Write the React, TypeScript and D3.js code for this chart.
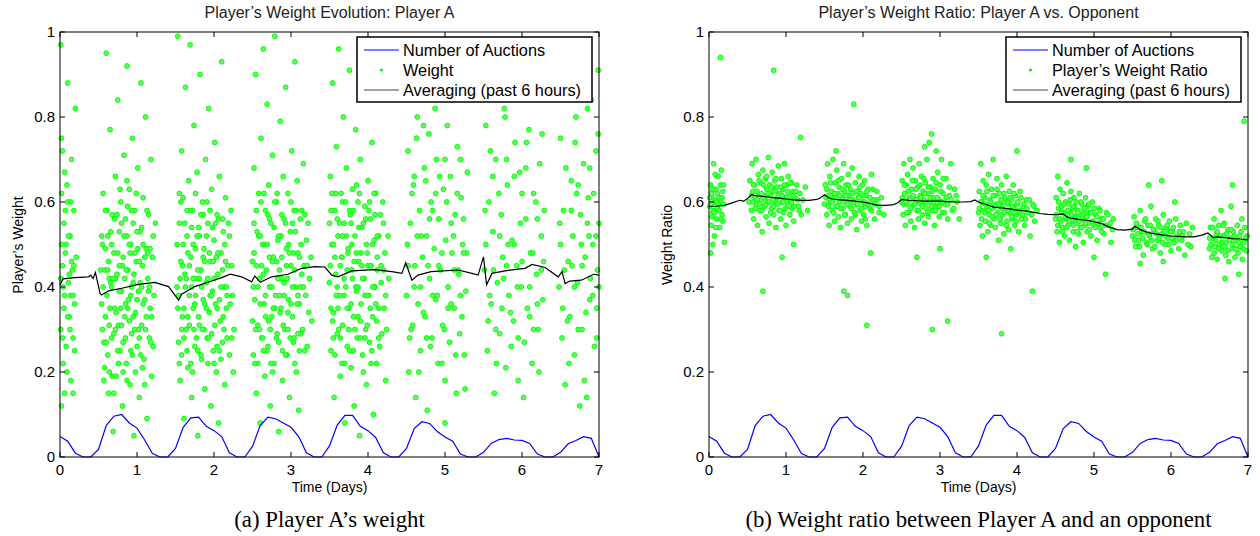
import React from 'react';
import * as d3 from 'd3';

// number of auctions (scaled to plot units), one sample every 0.1 day
const auctions = [
  0.048, 0.037, 0.009, 0, 0, 0.018, 0.074, 0.096, 0.1, 0.08,
  0.068, 0.04, 0.008, 0, 0, 0.02, 0.07, 0.092, 0.094, 0.072,
  0.062, 0.048, 0.01, 0, 0, 0.025, 0.074, 0.094, 0.09, 0.08,
  0.07, 0.048, 0.01, 0, 0, 0.026, 0.075, 0.098, 0.098, 0.072,
  0.062, 0.046, 0.01, 0, 0, 0.02, 0.067, 0.083, 0.079, 0.06,
  0.047, 0.037, 0.007, 0, 0, 0.011, 0.032, 0.041, 0.044, 0.04,
  0.039, 0.032, 0.007, 0, 0, 0.011, 0.031, 0.039, 0.048, 0.044,
  0,
];

// averaging (past 6 hours) - panel a
const avgADays = [0, 0.04, 0.19, 0.37, 0.4, 0.43, 0.46, 0.52, 0.54, 0.63, 0.8, 1.02, 1.23, 1.41, 1.54, 1.58, 1.75, 1.97, 2.1, 2.21, 2.36, 2.49, 2.53, 2.6, 2.75, 2.96, 3.14, 3.31, 3.44, 3.53, 3.61, 3.79, 4.09, 4.31, 4.44, 4.49, 4.57, 4.65, 4.82, 5.17, 5.35, 5.43, 5.5, 5.54, 5.61, 5.78, 6.04, 6.13, 6.3, 6.47, 6.52, 6.56, 6.62, 6.77, 6.93, 7];
const avgAValues = [0.405, 0.419, 0.422, 0.424, 0.428, 0.42, 0.434, 0.385, 0.381, 0.391, 0.397, 0.406, 0.411, 0.401, 0.369, 0.383, 0.401, 0.414, 0.422, 0.43, 0.424, 0.412, 0.426, 0.411, 0.424, 0.43, 0.444, 0.448, 0.447, 0.428, 0.424, 0.438, 0.441, 0.436, 0.432, 0.457, 0.416, 0.428, 0.436, 0.44, 0.432, 0.428, 0.471, 0.405, 0.432, 0.438, 0.444, 0.453, 0.446, 0.424, 0.436, 0.408, 0.414, 0.416, 0.43, 0.428];

// averaging (past 6 hours) - panel b
const avgBDays = [0, 0.1, 0.2, 0.3, 0.4, 0.45, 0.5, 0.55, 0.6, 0.7, 0.8, 0.9, 1.0, 1.1, 1.2, 1.3, 1.4, 1.45, 1.5, 1.55, 1.6, 1.7, 1.8, 1.9, 2.0, 2.1, 2.2, 2.3, 2.4, 2.45, 2.5, 2.6, 2.7, 2.8, 2.9, 3.0, 3.1, 3.2, 3.3, 3.4, 3.45, 3.5, 3.6, 3.7, 3.8, 3.9, 4.0, 4.1, 4.2, 4.3, 4.4, 4.5, 4.6, 4.65, 4.7, 4.8, 4.9, 5.0, 5.1, 5.2, 5.3, 5.4, 5.5, 5.53, 5.6, 5.7, 5.8, 5.9, 6.0, 6.1, 6.2, 6.3, 6.4, 6.48, 6.55, 6.6, 6.7, 6.8, 6.9, 7.0];
const avgBValues = [0.59, 0.59, 0.592, 0.598, 0.604, 0.602, 0.608, 0.617, 0.615, 0.613, 0.611, 0.609, 0.607, 0.605, 0.604, 0.604, 0.606, 0.61, 0.617, 0.61, 0.607, 0.605, 0.604, 0.602, 0.6, 0.596, 0.592, 0.592, 0.594, 0.598, 0.606, 0.604, 0.603, 0.602, 0.602, 0.602, 0.601, 0.6, 0.6, 0.601, 0.605, 0.6, 0.594, 0.588, 0.586, 0.584, 0.581, 0.579, 0.576, 0.573, 0.571, 0.57, 0.572, 0.565, 0.562, 0.559, 0.557, 0.554, 0.549, 0.541, 0.535, 0.534, 0.536, 0.543, 0.535, 0.528, 0.525, 0.522, 0.52, 0.519, 0.518, 0.518, 0.522, 0.527, 0.516, 0.518, 0.516, 0.514, 0.513, 0.511];

// weight samples: [day x 100, weight x 100]
const weightPoints = [
  [1,97],[2,62],[3,45],[1,30],[4,22],[2,12],[5,55],[6,38],[3,72],[7,48],[8,26],[9,64],[10,88],[11,41],[12,33],[13,52],[14,18],[15,70],[16,44],[17,28],[18,58],[19,36],[20,82],[21,47],[4,40],[8,50],[12,43],[6,67],[14,38],[2,50],[17,15],[10,60],
  [53,44],[55,30],[56,62],[58,21],[60,95],[61,38],[62,52],[63,15],[65,77],[66,41],[67,28],[68,57],[69,6],[70,48],[71,35],[72,66],[73,19],[74,43],[75,84],[76,31],[77,53],[78,25],[79,60],[80,39],[81,12],[82,47],[83,71],[84,33],[85,56],[86,22],[87,92],[88,44],[89,37],[90,63],[91,17],[92,50],[93,29],[94,75],[95,41],[96,5],[97,58],[98,34],[99,46],[100,26],[101,68],[102,39],[103,14],[104,53],[105,88],[106,31],[107,45],[108,61],[109,23],[110,37],[111,80],[112,49],[113,9],[114,42],[115,57],[116,28],[117,35],[118,70],[119,19],[120,47],[122,38],[124,55],[59,49],[64,42],[87,52],[93,40],
  [152,40],[153,99],[154,27],[155,55],[156,18],[157,46],[158,72],[159,33],[160,61],[161,9],[162,43],[163,87],[164,30],[165,52],[166,21],[167,65],[168,38],[169,97],[170,47],[171,14],[172,58],[173,35],[174,78],[175,26],[176,49],[177,42],[178,67],[179,5],[180,54],[181,31],[182,90],[183,44],[184,23],[185,60],[186,37],[187,49],[188,16],[189,70],[190,41],[191,28],[192,55],[193,82],[194,34],[195,46],[196,12],[197,63],[198,39],[199,25],[200,51],[201,74],[202,36],[203,20],[204,57],[205,43],[206,8],[207,66],[208,32],[209,48],[210,93],[211,27],[212,53],[213,40],[214,17],[215,61],[216,35],[218,45],[220,24],[222,58],[224,38],[226,30],
  [250,46],[251,24],[252,68],[253,37],[254,90],[255,15],[256,53],[257,31],[258,62],[259,42],[260,8],[261,75],[262,28],[263,50],[264,96],[265,36],[266,19],[267,58],[268,44],[269,83],[270,26],[271,64],[272,40],[273,12],[274,55],[275,33],[276,71],[277,47],[278,22],[279,99],[280,38],[281,60],[282,29],[283,51],[284,6],[285,44],[286,79],[287,35],[288,57],[289,18],[290,66],[291,41],[292,30],[293,87],[294,49],[295,24],[296,62],[297,37],[298,14],[299,53],[300,45],[301,72],[302,33],[303,27],[304,58],[305,93],[306,40],[307,20],[308,65],[309,48],[310,11],[311,36],[312,56],[313,29],[314,43],[316,69],[318,25],[320,51],[323,34],[326,47],
  [350,41],[351,66],[352,25],[353,50],[354,88],[355,34],[356,14],[357,58],[358,43],[359,73],[360,29],[361,52],[362,96],[363,38],[364,19],[365,62],[366,47],[367,31],[368,80],[369,55],[370,8],[371,40],[372,68],[373,26],[374,49],[375,35],[376,91],[377,57],[378,21],[379,44],[380,63],[381,33],[382,12],[383,52],[384,77],[385,39],[386,28],[387,60],[388,46],[389,5],[390,70],[391,36],[392,54],[393,24],[394,85],[395,42],[396,59],[397,30],[398,17],[399,48],[400,65],[401,38],[402,27],[403,56],[404,45],[405,74],[406,33],[407,10],[408,51],[409,40],[410,62],[411,22],[412,47],[414,35],[416,57],[418,29],[420,44],[423,18],[426,52],
  [450,38],[452,72],[453,20],[455,55],[456,89],[458,31],[459,64],[461,45],[462,14],[464,80],[465,36],[467,58],[468,25],[470,95],[471,47],[473,68],[474,33],[476,52],[477,11],[479,76],[480,42],[482,60],[483,28],[485,86],[486,49],[488,37],[489,70],[491,22],[492,56],[494,44],[495,91],[497,31],[498,63],[500,18],[501,51],[503,78],[504,40],[506,27],[507,66],[509,48],[510,84],[512,35],[513,57],[515,15],[516,73],[518,43],[519,29],[521,61],[523,50],[525,24],[527,39],[529,67],
  [551,44],[553,78],[555,25],[557,60],[558,92],[560,36],[562,53],[564,15],[566,70],[568,41],[570,87],[571,29],[573,57],[575,47],[577,82],[579,21],[581,64],[583,38],[585,95],[587,51],[589,32],[591,74],[593,45],[595,18],[597,67],[599,40],[601,85],[603,27],[605,56],[607,35],[609,77],[611,48],[613,22],[615,62],[617,90],[619,43],[621,30],[623,69],[625,52],[627,37],[629,58],
  [648,40],[650,75],[652,28],[654,58],[656,17],[658,88],[660,46],[662,33],[664,65],[666,52],[668,24],[670,80],[672,41],[674,97],[676,57],[678,30],[680,69],[682,47],[684,14],[686,61],[688,37],[690,84],[692,50],[694,26],[696,72],[698,44],[699,91],[697,35],[685,55],[671,62],
];

// denser core of the weight clouds
const weightPointsCore = [
  [1,42],[3,28],[5,35],[7,58],[9,20],[11,52],[13,30],[15,46],[17,38],[19,25],[2,75],[6,15],[10,33],[14,60],[18,45],
  [54,36],[55,50],[57,27],[58,44],[59,33],[61,58],[62,24],[63,46],[64,31],[66,53],[67,40],[68,19],[70,29],[71,56],[72,42],[73,34],[75,48],[76,22],[77,39],[78,63],[80,31],[81,45],[82,27],[83,52],[85,36],[86,44],[87,18],[88,59],[90,32],[91,48],[92,38],[94,24],[95,55],[96,43],[97,30],[99,62],[100,37],[101,49],[103,28],[104,41],[106,54],[107,21],[108,36],[110,47],[111,30],[113,58],[115,39],[117,49],[119,33],[121,26],
  [152,50],[154,38],[155,22],[157,60],[158,30],[159,45],[161,35],[162,55],[164,42],[165,25],[166,48],[168,31],[169,58],[171,40],[172,20],[173,50],[175,36],[176,62],[177,28],[179,44],[180,33],[181,52],[183,24],[184,40],[186,57],[187,30],[188,46],[190,35],[191,60],[192,22],[194,48],[195,38],[197,29],[198,54],[200,42],[201,31],[203,47],[204,26],[206,56],[207,37],[209,23],[211,44],[212,33],[214,50],[216,40],[217,28],[219,55],[221,36],[223,45],[225,20],
  [251,40],[252,55],[254,30],[255,45],[257,22],[258,52],[260,36],[261,60],[263,28],[264,43],[266,50],[267,33],[269,25],[270,57],[272,47],[273,30],[275,40],[276,20],[278,54],[279,35],[281,46],[282,62],[284,27],[285,38],[287,52],[288,42],[290,31],[291,56],[293,24],[294,45],[296,34],[297,50],[299,28],[300,60],[302,40],[303,48],[305,22],[306,53],[308,36],[309,29],[311,47],[312,40],[314,58],[315,30],[317,45],[319,38],[321,26],[322,55],[324,42],[327,32],
  [351,45],[352,58],[354,32],[355,50],[357,24],[358,62],[360,40],[361,35],[363,55],[364,28],[366,47],[367,60],[369,38],[370,22],[372,52],[373,44],[375,30],[376,58],[378,36],[379,50],[381,25],[382,46],[384,40],[385,64],[387,33],[388,54],[390,28],[391,48],[393,42],[394,20],[396,38],[397,56],[399,31],[400,45],[402,60],[403,35],[405,25],[406,50],[408,40],[409,57],[411,32],[412,44],[414,52],[415,26],[417,41],[419,60],[421,35],[422,48],[424,30],[427,42],
  [451,50],[454,28],[457,62],[460,40],[463,75],[466,20],[469,52],[472,34],[475,65],[478,45],[481,26],[484,58],[487,82],[490,38],[493,66],[496,48],[499,30],[502,60],[505,88],[508,36],[511,52],[514,24],[517,44],[520,70],[522,33],[524,56],[526,16],[528,48],[460,92],[500,8],
  [552,58],[556,32],[559,72],[563,44],[567,22],[570,62],[574,35],[578,80],[582,50],[586,26],[590,66],[594,40],[598,55],[602,14],[606,74],[610,33],[614,48],[618,60],[622,20],[626,76],[555,88],[580,45],[600,62],[620,36],[628,46],
  [649,55],[653,35],[657,68],[661,22],[665,45],[669,74],[673,30],[677,50],[681,18],[685,82],[689,42],[693,62],[697,28],[700,55],[663,90],[675,12],[687,52],[699,76],
];

// more samples in the busiest part of each day
const weightPointsCore2 = [
  [54,52],[56,40],[57,18],[59,58],[60,27],[62,44],[64,20],[65,35],[67,50],[69,42],[70,15],[72,30],[74,57],[75,25],[77,45],[79,35],[80,55],[82,20],[84,42],[85,28],[87,65],[88,35],[90,50],[92,25],[93,58],[95,33],[97,48],[98,20],[100,53],[102,30],[103,46],[105,24],[106,40],[108,50],[110,17],[112,33],[114,48],[116,40],[118,27],[121,52],
  [153,35],[155,62],[156,42],[158,24],[160,50],[161,28],[163,40],[165,58],[166,33],[168,45],[170,22],[171,54],[173,42],[174,30],[176,38],[178,52],[179,25],[181,42],[183,57],[185,30],[186,47],[188,36],[190,52],[192,42],[193,28],[195,58],[197,38],[199,46],[200,22],[202,55],[204,35],[205,48],[207,25],[209,40],[211,56],[213,30],[215,46],[217,38],[220,52],[223,28],
  [250,32],[252,48],[253,22],[255,58],[257,40],[259,30],[260,52],[262,45],[264,25],[265,62],[267,38],[269,50],[271,32],[272,56],[274,22],[276,46],[277,35],[279,60],[281,28],[283,42],[284,52],[286,34],[288,47],[289,25],[291,38],[293,55],[295,42],[296,30],[298,48],[300,36],[302,55],[304,28],[305,44],[307,58],[309,38],[311,25],[313,50],[316,40],[318,57],[321,45],
  [350,55],[352,35],[353,62],[355,28],[357,47],[359,38],[360,56],[362,30],[364,45],[366,22],[367,52],[369,42],[371,60],[373,35],[374,48],[376,25],[378,55],[380,42],[381,58],[383,30],[385,48],[387,40],[389,62],[390,32],[392,45],[394,55],[396,28],[398,50],[399,38],[401,58],[403,45],[404,22],[406,40],[408,62],[410,36],[412,52],[414,28],[417,45],[420,55],[423,38],
  [452,45],[456,30],[460,66],[464,52],[468,40],[472,78],[476,28],[480,56],[484,38],[488,62],[492,45],[496,22],[500,70],[504,35],[508,55],[512,44],[516,62],[520,38],[524,48],
  [553,50],[558,38],[562,66],[566,30],[571,52],[576,42],[580,70],[585,34],[590,50],[595,28],[600,46],[605,68],[610,40],[615,30],[620,56],[625,44],
  [650,50],[655,44],[659,32],[664,58],[668,40],[673,64],[678,45],[683,34],[688,68],[692,38],[696,52],[700,40],
];

// weight ratio samples: [day x 100, ratio x 1000]
const ratioPoints = [
  [1,590],[2,640],[3,545],[4,610],[5,575],[6,690],[7,520],[8,600],[9,630],[10,560],[11,585],[12,660],[13,610],[14,540],[15,600],[16,675],[17,570],[18,625],[19,595],[20,505],[3,620],[6,580],[9,540],[12,595],[15,640],[2,480],[8,665],[18,555],[15,940],[5,500],
  [52,600],[53,650],[55,580],[56,690],[57,625],[58,560],[59,640],[60,610],[61,700],[62,595],[63,545],[64,665],[65,620],[66,580],[67,645],[68,605],[69,530],[70,675],[71,615],[72,590],[73,655],[74,565],[75,630],[76,600],[77,705],[78,550],[79,640],[80,615],[81,585],[82,670],[83,625],[84,570],[85,650],[86,600],[87,540],[88,635],[89,610],[90,685],[91,580],[92,620],[93,560],[94,655],[95,600],[96,630],[97,575],[98,690],[99,610],[100,545],[101,640],[102,595],[103,660],[104,620],[105,570],[106,605],[107,645],[108,585],[109,625],[110,555],[112,610],[114,640],[116,590],[118,620],[120,570],[122,605],[125,635],[128,580],[84,910],[119,752],[70,390],[110,500],[95,470],
  [150,595],[151,640],[153,570],[154,690],[155,615],[156,545],[157,660],[158,600],[159,625],[160,580],[161,700],[162,610],[163,555],[164,645],[165,590],[166,675],[167,620],[168,565],[169,635],[170,600],[171,540],[172,655],[173,610],[174,585],[175,690],[176,625],[177,570],[178,640],[179,600],[180,550],[181,665],[182,615],[183,590],[184,630],[185,560],[186,680],[187,605],[188,830],[189,575],[190,645],[191,595],[192,535],[193,625],[194,610],[195,660],[196,580],[197,620],[198,555],[199,640],[200,600],[201,570],[202,650],[203,590],[204,615],[205,545],[207,630],[209,585],[211,665],[213,605],[215,560],[218,625],[221,590],[224,610],[227,570],[180,380],[205,310],[175,390],[210,480],[165,720],
  [250,600],[251,650],[252,570],[253,690],[254,620],[255,545],[256,640],[257,595],[258,665],[259,575],[260,610],[261,700],[262,555],[263,630],[264,590],[265,680],[266,610],[267,540],[268,650],[269,600],[270,580],[271,635],[272,560],[273,690],[274,615],[275,595],[276,660],[277,570],[278,625],[279,605],[280,550],[281,645],[282,585],[283,700],[284,620],[285,565],[286,740],[287,600],[288,635],[289,760],[290,580],[291,655],[292,610],[293,545],[294,630],[295,720],[296,590],[297,670],[298,605],[299,565],[300,640],[301,600],[302,700],[303,575],[304,620],[306,595],[308,655],[310,560],[312,615],[314,690],[316,580],[319,630],[322,600],[325,560],[280,730],[290,300],[310,320],[270,470],[300,490],
  [350,575],[351,625],[352,545],[353,690],[354,600],[355,520],[356,650],[357,580],[358,610],[359,555],[360,640],[361,590],[362,530],[363,665],[364,570],[365,605],[366,545],[367,630],[368,585],[369,700],[370,560],[371,615],[372,540],[373,595],[374,655],[375,575],[376,510],[377,620],[378,590],[379,550],[380,640],[381,570],[382,600],[383,525],[384,610],[385,580],[386,660],[387,555],[388,595],[389,535],[390,625],[391,575],[392,490],[393,605],[394,560],[395,640],[396,585],[397,545],[398,615],[399,570],[400,595],[402,530],[404,625],[406,560],[408,590],[410,545],[412,605],[414,575],[417,520],[420,595],[423,555],[426,580],[380,290],[420,390],[360,470],[400,720],
  [450,560],[451,610],[452,530],[453,660],[454,585],[455,505],[456,630],[457,555],[458,590],[459,540],[460,620],[461,575],[462,520],[463,600],[464,560],[465,645],[466,545],[467,595],[468,510],[469,575],[470,625],[471,555],[472,585],[473,530],[474,610],[475,565],[476,495],[477,600],[478,550],[479,580],[480,525],[481,620],[482,570],[483,540],[484,595],[485,560],[486,505],[487,580],[488,545],[489,610],[490,565],[491,530],[492,590],[493,550],[494,575],[496,520],[498,600],[500,545],[502,570],[504,510],[506,585],[508,540],[510,560],[513,525],[516,575],[519,545],[522,505],[525,560],[470,700],[490,680],[515,430],[500,470],
  [550,520],[552,565],[554,495],[556,540],[558,510],[560,580],[562,530],[564,475],[566,555],[568,505],[570,545],[572,520],[574,590],[576,490],[578,535],[580,560],[582,510],[584,545],[586,480],[588,525],[590,570],[592,500],[594,540],[596,515],[598,555],[600,485],[602,530],[604,505],[606,560],[608,520],[610,490],[612,545],[614,510],[616,530],[618,475],[620,550],[622,500],[624,525],[626,495],[628,540],[571,640],[588,650],[605,600],[590,460],[560,455],
  [650,490],[651,540],[653,470],[654,515],[656,560],[657,495],[659,525],[660,465],[662,545],[663,500],[665,580],[666,485],[668,520],[669,550],[671,475],[672,505],[674,535],[675,460],[677,515],[678,590],[680,490],[681,530],[683,470],[684,510],[686,545],[687,480],[689,520],[690,495],[692,560],[693,465],[695,505],[696,540],[698,485],[699,520],[680,640],[695,790],[670,420],[688,430],
];

// denser core of the ratio clouds
const ratioPointsCore = [
  [1,610],[3,595],[5,630],[7,575],[9,605],[11,620],[13,580],[15,560],[17,610],[19,640],[4,565],[10,600],
  [55,615],[57,600],[58,640],[60,585],[62,625],[63,605],[65,650],[66,595],[68,620],[69,580],[71,640],[72,610],[74,595],[75,660],[77,620],[78,600],[80,575],[81,635],[83,605],[84,590],[86,625],[87,655],[89,595],[90,615],[92,580],[93,635],[95,615],[96,600],[98,640],[99,585],[101,610],[102,625],[104,590],[105,645],[107,600],[109,615],[111,590],[113,625],[115,605],[117,580],
  [152,610],[153,630],[155,590],[157,605],[158,645],[160,600],[162,575],[163,620],[165,610],[167,590],[168,650],[170,615],[171,585],[173,630],[175,600],[176,570],[178,615],[180,595],[181,640],[183,605],[185,585],[186,620],[188,600],[190,570],[191,625],[193,595],[195,610],[196,635],[198,585],[200,615],[202,600],[203,560],[205,625],[207,595],[209,610],[211,580],[213,630],[215,595],[218,605],[221,575],
  [251,610],[253,595],[254,640],[256,600],[257,575],[259,625],[261,605],[262,585],[264,650],[265,615],[267,595],[269,630],[270,605],[272,580],[274,640],[275,610],[277,590],[279,655],[280,620],[282,600],[284,575],[285,635],[287,610],[289,590],[290,625],[292,600],[294,580],[295,645],[297,610],[299,590],[301,625],[303,600],[304,655],[306,575],[308,610],[310,595],[312,635],[315,605],[318,585],[321,615],
  [351,585],[353,600],[354,560],[356,615],[358,575],[359,595],[361,625],[363,580],[364,550],[366,600],[368,565],[369,615],[371,590],[373,570],[374,630],[376,595],[378,560],[379,605],[381,585],[383,620],[384,575],[386,545],[388,600],[389,580],[391,610],[393,565],[394,590],[396,620],[398,575],[399,555],[401,600],[403,580],[405,610],[407,570],[409,595],[411,560],[413,585],[416,605],[419,570],[422,590],
  [451,570],[453,545],[454,600],[456,560],[458,575],[459,530],[461,595],[463,565],[464,540],[466,580],[468,555],[469,605],[471,570],[473,545],[474,590],[476,560],[478,530],[479,575],[481,555],[483,600],[484,540],[486,570],[488,585],[489,550],[491,565],[493,595],[494,535],[496,575],[498,555],[500,585],[502,540],[504,565],[506,550],[508,580],[510,530],[512,560],[515,545],[518,570],[521,550],[524,535],
  [551,535],[553,510],[555,550],[557,525],[559,495],[561,540],[563,515],[565,530],[567,560],[569,500],[571,525],[573,545],[575,510],[577,535],[579,495],[581,525],[583,555],[585,515],[587,540],[589,505],[591,530],[593,520],[595,545],[597,500],[599,530],[601,515],[603,540],[607,510],[611,530],[615,520],
  [650,515],[652,500],[654,540],[656,480],[658,510],[660,530],[662,490],[664,520],[666,505],[668,545],[670,495],[672,525],[674,485],[676,510],[678,535],[680,500],[682,520],[684,490],[688,505],[691,530],[694,490],[697,515],
];

const xTicks = [0, 1, 2, 3, 4, 5, 6, 7];
const yTicks = [0, 0.2, 0.4, 0.6, 0.8, 1];
const yTickLabels = ['0', '0.2', '0.4', '0.6', '0.8', '1'];

const FONT = '"Liberation Sans", Arial, Helvetica, sans-serif';

type PanelProps = {
  left: number;
  right: number;
  title: string;
  ylabel: string;
  caption: string;
  pointLabel: string;
  points: number[][];
  pointScale: number;
  avgDays: number[];
  avgValues: number[];
};

function Panel({ left, right, title, ylabel, caption, pointLabel, points, pointScale, avgDays, avgValues }: PanelProps) {
  const top = 32;
  const bottom = 457;
  const x = d3.scaleLinear().domain([0, 7]).range([left, right]);
  const y = d3.scaleLinear().domain([0, 1]).range([bottom, top]);
  const cx = (left + right) / 2;

  const auctionLine = d3.line<number>()
    .x((_, i) => x(i / 10))
    .y(d => y(d));
  const avgLine = d3.line<number>()
    .x((_, i) => x(avgDays[i]))
    .y(d => y(d));

  // legend box
  const lgRight = right - 7;
  const lgLeft = lgRight - 235;
  const lgTop = 37;

  return (
    <g>
      <text x={cx} y={18} textAnchor="middle" fontSize={16} fontFamily={FONT} fill="#222">{title}</text>

      {points.map((p, i) => (
        <circle key={i} cx={x(p[0] / 100)} cy={y(p[1] / pointScale)} r={2.4}
          fill="#5cff5c" stroke="#00ff00" strokeWidth={1} />
      ))}

      <path d={auctionLine(auctions) || ''} fill="none" stroke="#0000ff" strokeWidth={1.2} />
      <path d={avgLine(avgValues) || ''} fill="none" stroke="#000" strokeWidth={1.2} />

      {/* axes box */}
      <rect x={left} y={top} width={right - left} height={bottom - top} fill="none" stroke="#000" strokeWidth={1} />
      {xTicks.map(t => (
        <g key={'x' + t}>
          <line x1={x(t)} x2={x(t)} y1={bottom} y2={bottom - 5} stroke="#000" />
          <line x1={x(t)} x2={x(t)} y1={top} y2={top + 5} stroke="#000" />
          <text x={x(t)} y={475} textAnchor="middle" fontSize={15} fontFamily={FONT}>{t}</text>
        </g>
      ))}
      {yTicks.map((t, i) => (
        <g key={'y' + t}>
          <line x1={left} x2={left + 5} y1={y(t)} y2={y(t)} stroke="#000" />
          <line x1={right} x2={right - 5} y1={y(t)} y2={y(t)} stroke="#000" />
          <text x={left - 5} y={y(t) + 5} textAnchor="end" fontSize={15} fontFamily={FONT}>{yTickLabels[i]}</text>
        </g>
      ))}
      <text x={cx} y={492} textAnchor="middle" fontSize={14} fontFamily={FONT}>Time (Days)</text>
      <text transform={`translate(${left - 37},${245}) rotate(-90)`} textAnchor="middle" fontSize={14} fontFamily={FONT}>{ylabel}</text>

      {/* legend */}
      <rect x={lgLeft} y={lgTop} width={lgRight - lgLeft} height={65} fill="#fff" stroke="#000" strokeWidth={1.5} />
      <line x1={lgLeft + 7} x2={lgLeft + 42} y1={lgTop + 13} y2={lgTop + 13} stroke="#0000ff" strokeWidth={1.2} />
      <circle cx={lgLeft + 24.5} cy={lgTop + 33} r={1.6} fill="#00ff00" />
      <line x1={lgLeft + 7} x2={lgLeft + 42} y1={lgTop + 53} y2={lgTop + 53} stroke="#444" strokeWidth={1.2} />
      <text x={lgLeft + 46} y={lgTop + 19} fontSize={16.3} fontFamily={FONT}>Number of Auctions</text>
      <text x={lgLeft + 46} y={lgTop + 39} fontSize={16.3} fontFamily={FONT}>{pointLabel}</text>
      <text x={lgLeft + 46} y={lgTop + 59} fontSize={16.3} fontFamily={FONT}>Averaging (past 6 hours)</text>

      <text x={cx} y={527} textAnchor="middle" fontSize={22.8} fontFamily='"Liberation Serif", "DejaVu Serif", serif'>{caption}</text>
    </g>
  );
}

export default function App() {
  return (
    <div style={{ position: 'absolute', left: 0, top: 0, background: '#fff' }}>
      <svg width={1260} height={536} viewBox="0 0 1260 536" style={{ display: 'block' }}>
        <rect width={1260} height={536} fill="#fff" />
        <Panel left={60} right={599} title="Player’s Weight Evolution: Player A" ylabel="Player’s Weight"
          caption="(a) Player A’s weight" pointLabel="Weight"
          points={weightPoints.concat(weightPointsCore, weightPointsCore2)} pointScale={100}
          avgDays={avgADays} avgValues={avgAValues} />
        <Panel left={709} right={1248} title="Player’s Weight Ratio: Player A vs. Opponent" ylabel="Weight Ratio"
          caption="(b) Weight ratio between Player A and an opponent" pointLabel="Player’s Weight Ratio"
          points={ratioPoints.concat(ratioPointsCore)} pointScale={1000} avgDays={avgBDays} avgValues={avgBValues} />
      </svg>
    </div>
  );
}
